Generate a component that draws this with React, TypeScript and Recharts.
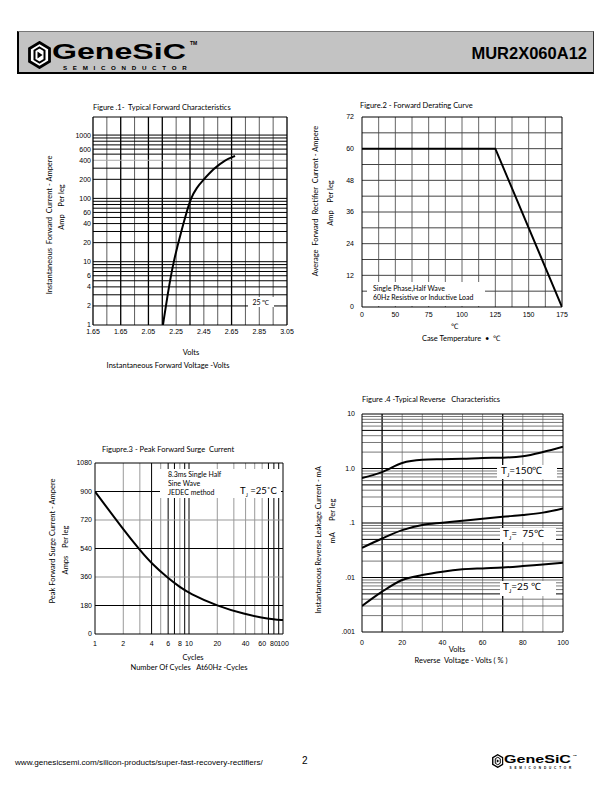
import React from "react";
import { LineChart, Line, XAxis, YAxis, ReferenceLine } from "recharts";

// ---- Figure 1: typical forward characteristics
const fwdVolts = [2.155, 2.188, 2.23, 2.29, 2.325, 2.355, 2.40, 2.446, 2.518, 2.602, 2.675];
const fwdAmps = [1, 3, 10, 32, 60, 100, 150, 195, 291, 404, 468];
const fwdVoltTicks = [1.65, 1.85, 2.05, 2.25, 2.45, 2.65, 2.85, 3.05];
const fwdVoltLabels = ["1.65", "1.65", "2.05", "2.25", "2.45", "2.65", "2.85", "3.05"];
const fwdAmpTicks = [1, 2, 4, 6, 10, 20, 40, 60, 100, 200, 400, 600, 1000];
const fwdVoltGridBold = [1.85, 2.05, 2.15, 2.35, 2.65];
const fwdVoltGridThin = [1.75, 1.95, 2.25, 2.45, 2.55, 2.75, 2.85, 2.95];
const fwdAmpGrid = [2, 3, 4, 5, 6, 7, 8, 9, 10, 20, 30, 40, 50, 60, 70, 80, 90, 100, 200, 300, 500, 600, 700, 800, 900, 1000];
const fwdAmpGridGray = [400];

// ---- Figure 2: forward derating curve
const derateTemps = [0, 50, 75, 100, 125, 150, 175];
const derateAmps = [60, 60, 60, 60, 60, 30, 0];
const derateAmpTicks = [0, 12, 24, 36, 48, 60, 72];
const derateAmpGrid = [6, 12, 18, 24, 30, 36, 42, 48, 54, 60, 66];
const derateTempGrid = [0.5, 1, 1.5, 2, 2.5, 3, 3.5, 4, 4.5, 5, 5.5];

// ---- Figure 3: peak forward surge current
const surgeCycles = [1, 2, 3, 4, 6, 8, 10, 20, 40, 60, 80, 100];
const surgeAmps = [900, 660, 530, 445, 352, 296, 258, 176, 124, 103, 93, 88];
const surgeCycleTicks = [1, 2, 4, 6, 8, 10, 20, 40, 60, 80, 100];
const surgeAmpTicks = [0, 180, 360, 540, 720, 900, 1080];
const surgeGridBlack = [4, 6, 7, 9, 10, 70, 80, 90];
const surgeGridGray = [2, 3, 5, 8, 20, 30, 40, 50, 60];
const surgeAmpGridBlack = [180, 540, 900];
const surgeAmpGridGray = [360, 720];

// ---- Figure 4: typical reverse characteristics
const revVolts = [0, 10, 20, 30, 40, 50, 60, 70, 80, 90, 100];
const rev150 = [0.67, 0.86, 1.26, 1.44, 1.48, 1.51, 1.56, 1.58, 1.68, 2.0, 2.5];
const rev75 = [0.035, 0.052, 0.074, 0.092, 0.101, 0.11, 0.12, 0.13, 0.14, 0.155, 0.185];
const rev25 = [0.003, 0.0055, 0.009, 0.0111, 0.0128, 0.0141, 0.0147, 0.0152, 0.0162, 0.0174, 0.0186];
const revVoltTicks = [0, 20, 40, 60, 80, 100];
const revCurrTicks = [0.001, 0.01, 0.1, 1, 10];
const revCurrLabels = [".001", ".01", ".1", "1.0", "10"];
const revVoltGridBlack = [10, 70];
const revVoltGridGray = [20, 30, 40, 50, 60, 80, 90];
const revCurrGridBlack = [0.005, 0.01, 0.05, 0.1, 0.5, 1, 5];
const revCurrGridGray = [
  0.002, 0.003, 0.004, 0.006, 0.007, 0.008, 0.009,
  0.02, 0.03, 0.04, 0.06, 0.07, 0.08, 0.09,
  0.2, 0.3, 0.4, 0.6, 0.7, 0.8, 0.9,
  2, 3, 4, 6, 7, 8, 9,
];

const fwdData = fwdVolts.map((v, i) => ({ v, amps: fwdAmps[i] }));
const derateData = derateTemps.map((t, i) => ({ pos: i, amps: derateAmps[i] }));
const surgeData = surgeCycles.map((c, i) => ({ c, amps: surgeAmps[i] }));
const revData = revVolts.map((v, i) => ({ v, t150: rev150[i], t75: rev75[i], t25: rev25[i] }));

const FONT = "Lato, 'Liberation Sans', sans-serif";
const NUM = "'Liberation Sans', Arial, sans-serif";
const tickStyle = { fontSize: 7, fill: "#000", fontFamily: NUM };
const YW = 40; // y axis width
const PT = 6; // top margin
const PR = 14; // right margin
const XH = 22; // x axis height

function T({ x, y, s = 7.5, c = false, children, style }: any) {
  return (
    <div
      style={{
        position: "absolute",
        left: x,
        top: y,
        transform: `translate(${c ? "-50%" : "0"}, -50%)`,
        fontSize: s,
        fontFamily: FONT,
        whiteSpace: "pre",
        lineHeight: 1,
        ...style,
      }}
    >
      {children}
    </div>
  );
}

function VT({ x, y, s = 7.5, children }: any) {
  return (
    <div
      style={{
        position: "absolute",
        left: x,
        top: y,
        transform: "translate(-50%, -50%) rotate(-90deg)",
        fontSize: s,
        fontFamily: FONT,
        whiteSpace: "pre",
        lineHeight: 1,
      }}
    >
      {children}
    </div>
  );
}

function Box({ x, y, w, h }: any) {
  return <div style={{ position: "absolute", left: x, top: y, width: w, height: h, background: "#fff" }} />;
}

function vLines(vals: number[], stroke: string, width: number) {
  return vals.map((v) => <ReferenceLine key={"x" + stroke + v} x={v} stroke={stroke} strokeWidth={width} />);
}
function hLines(vals: number[], stroke: string, width: number) {
  return vals.map((v) => <ReferenceLine key={"y" + stroke + v} y={v} stroke={stroke} strokeWidth={width} />);
}

function Logo({ x, y, k = 1 }: any) {
  return (
    <div style={{ position: "absolute", left: x, top: y, width: 172, height: 28, transform: `scale(${k})`, transformOrigin: "0 0" }}>
      <svg width={23} height={28} style={{ position: "absolute", left: 0, top: 0 }}>
        <polygon points="11.5,1.5 21.5,7.5 21.5,20.5 11.5,26.5 1.5,20.5 1.5,7.5" fill="#fff" stroke="#000" strokeWidth={2.8} />
        <polygon points="11.5,6.5 16.5,9.5 16.5,18.5 11.5,21.5 6.5,18.5 6.5,9.5" fill="none" stroke="#000" strokeWidth={2} />
        <polygon points="9.5,10.5 14.5,14 9.5,17.5" fill="#000" />
      </svg>
      <div
        style={{
          position: "absolute",
          left: 24,
          top: 2.5,
          fontFamily: NUM,
          fontWeight: 700,
          fontSize: 22,
          lineHeight: 0.75,
          whiteSpace: "nowrap",
          transform: "scaleX(1.46)",
          transformOrigin: "0 0",
        }}
      >
        GeneSiC
      </div>
      <div style={{ position: "absolute", left: 162, top: 0, fontFamily: NUM, fontSize: 5, fontWeight: 700, lineHeight: 1 }}>TM</div>
      <div style={{ position: "absolute", left: 35, top: 24.5, fontFamily: NUM, fontSize: 6.2, fontWeight: 700, lineHeight: 0.75, letterSpacing: 5.7, whiteSpace: "nowrap" }}>
        SEMICONDUCTOR
      </div>
    </div>
  );
}

export default function App() {
  return (
    <div style={{ position: "absolute", left: 0, top: 0, width: 612, height: 792, background: "#fff", overflow: "hidden", fontFamily: FONT }}>
      {/* header */}
      <div
        style={{
          position: "absolute",
          left: 17,
          top: 31,
          width: 574,
          height: 40,
          background: "#c3c3c3",
          borderLeft: "2px solid #000",
          borderBottom: "2px solid #000",
          borderTop: "1px solid #777",
          borderRight: "1px solid #333",
        }}
      />
      <Logo x={28} y={41} />
      <div style={{ position: "absolute", right: 25, top: 44.8, fontFamily: NUM, fontWeight: 700, fontSize: 16.5, lineHeight: 1 }}>
        MUR2X060A12
      </div>

      {/* Figure 1 */}
      <div style={{ position: "absolute", left: 93 - YW, top: 117 - PT }}>
        <LineChart width={194 + YW + PR} height={208 + PT + XH} data={fwdData} margin={{ top: PT, right: PR, left: 0, bottom: 0 }}>
          <XAxis dataKey="v" type="number" domain={[1.65, 3.05]} allowDataOverflow ticks={fwdVoltTicks} interval={0}
            tickFormatter={(_v: number, i: number) => fwdVoltLabels[i]} axisLine={false} tickLine={false} tickSize={0} tickMargin={4} height={XH} tick={tickStyle} />
          <YAxis type="number" scale="log" domain={[1, 1930]} allowDataOverflow ticks={fwdAmpTicks} interval={0}
            axisLine={false} tickLine={false} tickSize={0} tickMargin={2} width={YW} tick={tickStyle} />
          {vLines(fwdVoltGridThin, "#333", 0.8)}
          {vLines(fwdVoltGridBold, "#000", 1.3)}
          {hLines(fwdAmpGrid, "#000", 1)}
          {hLines(fwdAmpGridGray, "#aaa", 1)}
          {vLines([1.65, 3.05], "#000", 1.3)}
          {hLines([1, 1930], "#000", 1)}
          <Line dataKey="amps" type="basis" stroke="#000" strokeWidth={2} dot={false} isAnimationActive={false} />
        </LineChart>
      </div>
      <T x={93} y={108}>{"Figure .1-  Typical Forward Characteristics"}</T>
      <VT x={50} y={225}>{"Instantaneous  Forward  Current - Ampere"}</VT>
      <VT x={62} y={207}>{"Amp    Per leg"}</VT>
      <T x={191} y={353} c>Volts</T>
      <T x={168} y={366} c>{"Instantaneous Forward Voltage -Volts"}</T>
      <Box x={248} y={297} w={26} h={10} />
      <T x={261} y={302} c s={7}>{"25 ℃"}</T>

      {/* Figure 2 */}
      <div style={{ position: "absolute", left: 362 - YW, top: 117 - PT }}>
        <LineChart width={200 + YW + PR} height={190 + PT + XH} data={derateData} margin={{ top: PT, right: PR, left: 0, bottom: 0 }}>
          <XAxis dataKey="pos" type="number" domain={[0, 6]} allowDataOverflow ticks={derateTemps.map((_t, i) => i)} interval={0}
            tickFormatter={(v: number) => String(derateTemps[v])} axisLine={false} tickLine={false} tickSize={0} tickMargin={5} height={XH} tick={tickStyle} />
          <YAxis type="number" domain={[0, 72]} allowDataOverflow ticks={derateAmpTicks} interval={0}
            axisLine={false} tickLine={false} tickSize={0} tickMargin={8} width={YW} tick={tickStyle} />
          {vLines(derateTempGrid, "#666", 1)}
          {hLines(derateAmpGrid, "#444", 1)}
          {vLines([0, 6], "#000", 1)}
          {hLines([0, 72], "#000", 1)}
          <Line dataKey="amps" type="linear" stroke="#000" strokeWidth={2} dot={false} isAnimationActive={false} />
        </LineChart>
      </div>
      <T x={360} y={106}>{"Figure.2 - Forward Derating Curve"}</T>
      <VT x={316} y={201}>{"Average  Forward  Rectifier  Current - Ampere"}</VT>
      <VT x={331} y={203}>{"Amp    Per leg"}</VT>
      <T x={454} y={327} c>{"℃"}</T>
      <T x={461} y={339} c>{"Case Temperature  •  ℃"}</T>
      <Box x={367} y={282} w={118} h={24} />
      <T x={373} y={288} s={7}>{"Single Phase,Half Wave"}</T>
      <T x={373} y={297} s={7}>{"60Hz Resistive or Inductive Load"}</T>

      {/* Figure 3 */}
      <div style={{ position: "absolute", left: 95 - YW, top: 463 - PT }}>
        <LineChart width={188 + YW + PR} height={171 + PT + XH} data={surgeData} margin={{ top: PT, right: PR, left: 0, bottom: 0 }}>
          <XAxis dataKey="c" type="number" scale="log" domain={[1, 100]} allowDataOverflow ticks={surgeCycleTicks} interval={0}
            axisLine={false} tickLine={false} tickSize={0} tickMargin={7} height={XH} tick={tickStyle} />
          <YAxis type="number" domain={[0, 1080]} allowDataOverflow ticks={surgeAmpTicks} interval={0}
            axisLine={false} tickLine={false} tickSize={0} tickMargin={3} width={YW} tick={tickStyle} />
          {vLines(surgeGridGray, "#999", 1)}
          {vLines(surgeGridBlack, "#000", 1)}
          {hLines(surgeAmpGridGray, "#999", 1)}
          {hLines(surgeAmpGridBlack, "#000", 1)}
          {vLines([1, 100], "#000", 1)}
          {hLines([0, 1080], "#000", 1)}
          <Line dataKey="amps" type="basis" stroke="#000" strokeWidth={2} dot={false} isAnimationActive={false} />
        </LineChart>
      </div>
      <T x={102} y={450}>{"Figupre.3 - Peak Forward Surge  Current"}</T>
      <VT x={53} y={541}>{"Peak Forward Surge Current - Ampere"}</VT>
      <VT x={66} y={550}>{"Amps    Per leg"}</VT>
      <T x={193} y={658} c>Cycles</T>
      <T x={189} y={668} c>{"Number Of Cycles   At60Hz -Cycles"}</T>
      <Box x={160} y={469} w={121} h={29} />
      <T x={168} y={474} s={7}>{"8.3ms Single Half"}</T>
      <T x={168} y={483} s={7}>{"Sine Wave"}</T>
      <T x={168} y={492} s={7}>{"JEDEC method"}</T>
      <T x={240} y={492} s={9.5}>
        T<sub style={{ fontSize: 5 }}>J</sub>{" =25˚C"}
      </T>

      {/* Figure 4 */}
      <div style={{ position: "absolute", left: 362 - YW, top: 414 - PT }}>
        <LineChart width={201 + YW + PR} height={218 + PT + XH} data={revData} margin={{ top: PT, right: PR, left: 0, bottom: 0 }}>
          <XAxis dataKey="v" type="number" domain={[0, 100]} allowDataOverflow ticks={revVoltTicks} interval={0}
            axisLine={false} tickLine={false} tickSize={0} tickMargin={8} height={XH} tick={tickStyle} />
          <YAxis type="number" scale="log" domain={[0.001, 10]} allowDataOverflow ticks={revCurrTicks} interval={0}
            tickFormatter={(_v: number, i: number) => revCurrLabels[i]} axisLine={false} tickLine={false} tickSize={0} tickMargin={7} width={YW} tick={tickStyle} />
          {vLines(revVoltGridGray, "#999", 1)}
          {vLines(revVoltGridBlack, "#000", 1.3)}
          {hLines(revCurrGridGray, "#555", 0.8)}
          {hLines(revCurrGridBlack, "#000", 1)}
          {vLines([0, 100], "#000", 1)}
          {hLines([0.001, 10], "#000", 1)}
          <Line dataKey="t150" type="monotone" stroke="#000" strokeWidth={2} dot={false} isAnimationActive={false} />
          <Line dataKey="t75" type="monotone" stroke="#000" strokeWidth={2} dot={false} isAnimationActive={false} />
          <Line dataKey="t25" type="monotone" stroke="#000" strokeWidth={2} dot={false} isAnimationActive={false} />
        </LineChart>
      </div>
      <T x={362} y={400}>{"Figure .4 -Typical Reverse   Characteristics"}</T>
      <VT x={319} y={540}>{"Instantaneous Reverse Leakage Current - mA"}</VT>
      <VT x={333} y={521}>{"mA      Per leg"}</VT>
      <T x={457} y={650} c>Volts</T>
      <T x={461} y={661} c>{"Reverse  Voltage - Volts ( % )"}</T>
      <Box x={497} y={465} w={60} h={14} />
      <T x={501} y={472} s={10}>
        T<sub style={{ fontSize: 5.5 }}>J</sub>{"=150℃"}
      </T>
      <Box x={500} y={528} w={56} h={14} />
      <T x={503} y={535} s={10}>
        T<sub style={{ fontSize: 5.5 }}>J</sub>{"=  75℃"}
      </T>
      <Box x={500} y={581} w={56} h={15} />
      <T x={503} y={588} s={10}>
        T<sub style={{ fontSize: 5.5 }}>J</sub>{"=25 ℃"}
      </T>

      {/* footer */}
      <T x={15} y={763} s={8.1} style={{ fontFamily: NUM }}>{"www.genesicsemi.com/silicon-products/super-fast-recovery-rectifiers/"}</T>
      <T x={302} y={761} s={10} style={{ fontFamily: NUM }}>2</T>
      <Logo x={492} y={754} k={0.5} />
    </div>
  );
}
